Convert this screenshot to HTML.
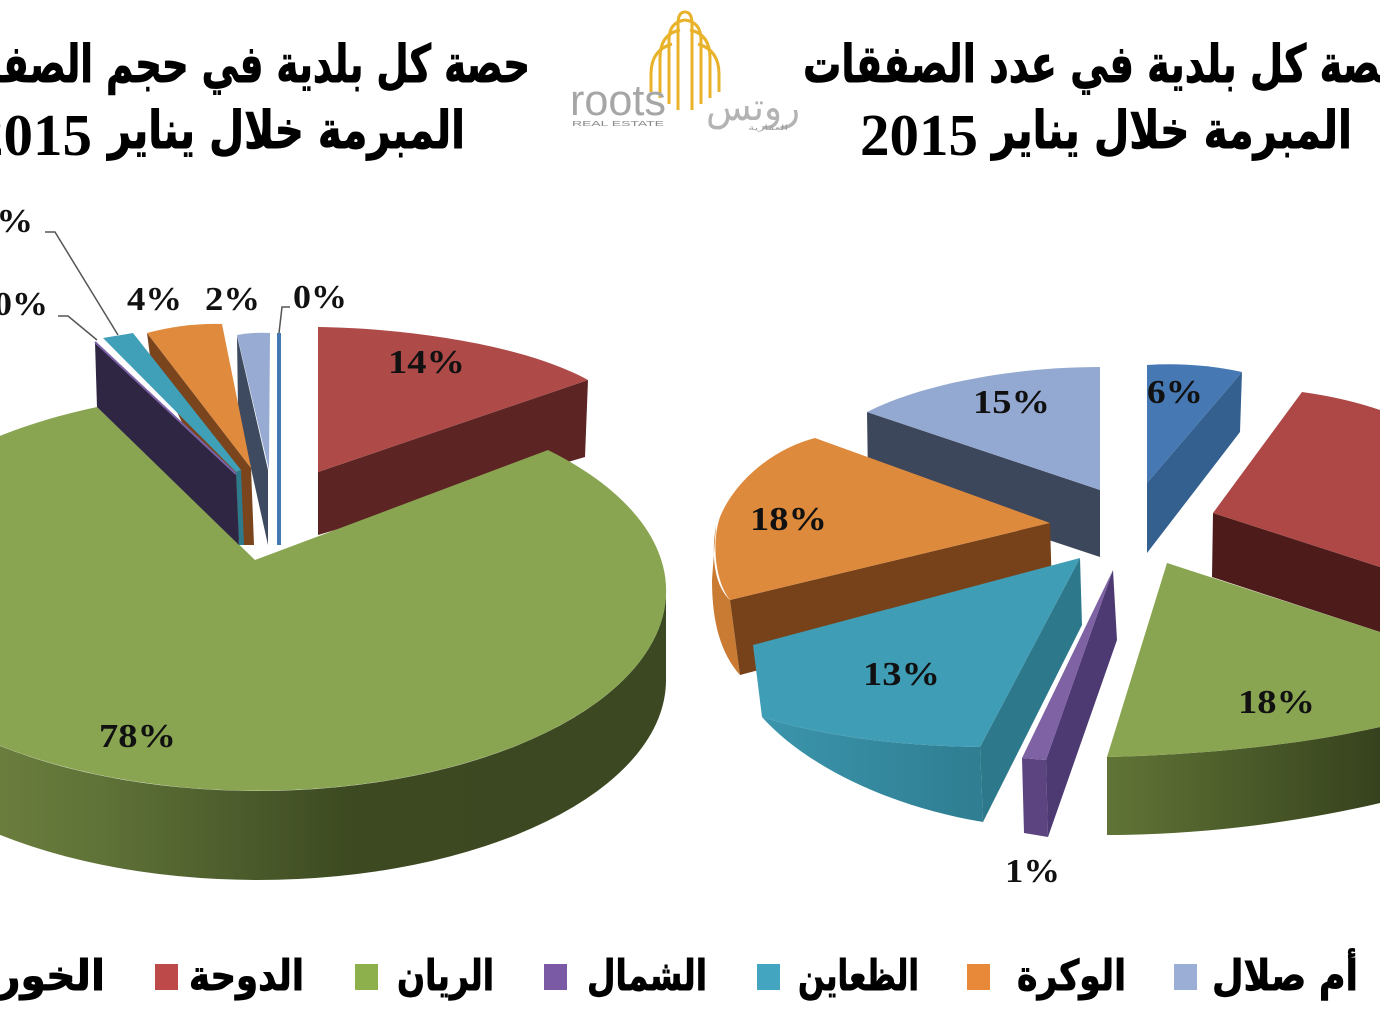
<!DOCTYPE html>
<html>
<head>
<meta charset="utf-8">
<style>
html,body{margin:0;padding:0;background:#fff;}
svg{display:block;}
.ar{font-family:"DejaVu Sans",sans-serif;font-weight:bold;fill:#000;stroke:#000;stroke-width:0.9px;}
.lb{font-family:"Liberation Serif",serif;font-weight:bold;fill:#111;font-size:34px;}
</style>
</head>
<body>
<svg width="1380" height="1034" viewBox="0 0 1380 1034" xmlns="http://www.w3.org/2000/svg">
<defs>
<linearGradient id="gw" gradientUnits="userSpaceOnUse" x1="-150" y1="0" x2="666" y2="0">
<stop offset="0" stop-color="#7a8e46"/>
<stop offset="0.3" stop-color="#607338"/>
<stop offset="0.62" stop-color="#3c4921"/>
<stop offset="1" stop-color="#3b4821"/>
</linearGradient>
<linearGradient id="gw2" gradientUnits="userSpaceOnUse" x1="1107" y1="0" x2="1380" y2="0">
<stop offset="0" stop-color="#617436"/>
<stop offset="1" stop-color="#36421d"/>
</linearGradient>
<linearGradient id="tw" gradientUnits="userSpaceOnUse" x1="760" y1="0" x2="985" y2="0">
<stop offset="0" stop-color="#3b95ac"/>
<stop offset="1" stop-color="#2f7d91"/>
</linearGradient>
</defs>
<rect width="1380" height="1034" fill="#fff"/>

<!-- ===== Titles ===== -->
<text class="ar" x="-75" y="82" font-size="52" textLength="605" lengthAdjust="spacingAndGlyphs">حصة كل بلدية في حجم الصفقات</text>
<text class="ar" x="108" y="148" font-size="52" textLength="357" lengthAdjust="spacingAndGlyphs">المبرمة خلال يناير</text>
<text x="-26" y="155" font-family="Liberation Serif, serif" font-weight="bold" font-size="59" textLength="118" lengthAdjust="spacingAndGlyphs">2015</text>

<text class="ar" x="803" y="82" font-size="52" textLength="605" lengthAdjust="spacingAndGlyphs">حصة كل بلدية في عدد الصفقات</text>
<text class="ar" x="992" y="148" font-size="52" textLength="360" lengthAdjust="spacingAndGlyphs">المبرمة خلال يناير</text>
<text x="860" y="155" font-family="Liberation Serif, serif" font-weight="bold" font-size="59" textLength="118" lengthAdjust="spacingAndGlyphs">2015</text>

<!-- ===== Logo ===== -->
<g fill="none" stroke="#e8b22a" stroke-width="3">
<path d="M678,110 L678,24 Q678,12 685,12 Q692,12 692,24 L692,110"/>
<path d="M669,104 L669,40 Q669,22 685,20"/>
<path d="M701,104 L701,40 Q701,22 685,20"/>
<path d="M660,98 L660,58 Q660,34 680,30"/>
<path d="M710,98 L710,58 Q710,34 690,30"/>
<path d="M651,92 L651,74 Q651,50 672,44"/>
<path d="M719,92 L719,74 Q719,50 698,44"/>
</g>
<text x="570" y="115" font-family="Liberation Sans, sans-serif" font-size="44" fill="#a6a6a6" textLength="96" lengthAdjust="spacingAndGlyphs">roots</text>
<text x="572" y="126" font-family="Liberation Sans, sans-serif" font-size="7" fill="#8a8a8a" textLength="92" lengthAdjust="spacingAndGlyphs">REAL ESTATE</text>
<text x="706" y="120" font-family="DejaVu Sans, sans-serif" font-size="38" fill="#b3b3b3" textLength="94" lengthAdjust="spacingAndGlyphs">روتس</text>
<text x="748" y="130" font-family="DejaVu Sans, sans-serif" font-size="7" fill="#999" textLength="40" lengthAdjust="spacingAndGlyphs">العقارية</text>

<!-- ===== Left pie ===== -->
<path d="M318,472 L588,380 L585,457 L318,535 Z" fill="#5c2423"/>
<path d="M318,472 L318,327 C400,328 520,343 588,380 Z" fill="#ae4a48"/>
<path d="M666,591 A408,200 0 0 1 -150,591 L-150,680 A408,200 0 0 0 666,680 Z" fill="url(#gw)"/>
<path d="M255,560 L548,450 A408,200 0 1 1 97,407 Z" fill="#8aa552"/>
<path d="M237,336 L268,470 L268,545 L238,410 Z" fill="#3e4a5f"/>
<path d="M237,335 Q254,332 270,333 L269,470 Z" fill="#97abd3"/>
<rect x="277" y="333" width="4" height="212" fill="#4577b0"/>
<path d="M147,333 L251,468 L254,545 L241,545 L150,356 Z" fill="#7a451c"/>
<path d="M147,333 Q185,323 222,324 L251,468 Z" fill="#e08a3e"/>
<path d="M236,472 L241,470 L244,545 L239,545 Z" fill="#2d7a8c"/>
<path d="M103,338 L133,333 L241,470 L236,472 Z" fill="#3fa0b8"/>
<path d="M95,342 L236,474 L239,545 L97,407 Z" fill="#2f2643"/>
<path d="M95,342 L236,474" stroke="#7b62a8" stroke-width="2"/>

<g fill="none" stroke="#555" stroke-width="1.5">
<path d="M45,232 L55,232 L118,335"/>
<path d="M58,316 L68,316 L97,340"/>
<path d="M290,307 L282,307 L279,333"/>
</g>

<text class="lb" x="388" y="373" textLength="77" lengthAdjust="spacingAndGlyphs">14%</text>
<text class="lb" x="99" y="747" textLength="77" lengthAdjust="spacingAndGlyphs">78%</text>
<text class="lb" x="127" y="310" textLength="55" lengthAdjust="spacingAndGlyphs">4%</text>
<text class="lb" x="205" y="310" textLength="55" lengthAdjust="spacingAndGlyphs">2%</text>
<text class="lb" x="293" y="308" textLength="54" lengthAdjust="spacingAndGlyphs">0%</text>
<text class="lb" x="-6" y="315" textLength="54" lengthAdjust="spacingAndGlyphs">0%</text>
<text class="lb" x="-22" y="232" textLength="55" lengthAdjust="spacingAndGlyphs">1%</text>

<!-- ===== Right pie ===== -->
<path d="M867,412 L1100,490 L1100,557 L868,480 Z" fill="#3d475b"/>
<path d="M1100,490 L867,412 C920,385 1010,367 1100,367 Z" fill="#94a9d1"/>
<path d="M1147,483 L1242,372 L1240,432 L1147,553 Z" fill="#34608f"/>
<path d="M1147,483 L1147,365 Q1195,362 1242,372 Z" fill="#4679b4"/>
<path d="M1213,513 L1380,567 L1380,632 L1212,577 Z" fill="#4d1b19"/>
<path d="M1213,513 L1302,392 Q1345,398 1380,410 L1380,567 Z" fill="#ad4846"/>
<path d="M716,525 C711,555 714,585 730,600 L740,675 C722,655 712,625 712,580 Z" fill="#c97a33"/>
<path d="M730,600 L1050,523 L1052,592 L740,675 Z" fill="#774219"/>
<path d="M815,438 C775,448 735,480 720,517 C712,540 714,580 730,600 L1050,523 Z" fill="#de8a3d"/>
<path d="M762,717 C830,738 905,746 980,747 L983,822 C880,805 800,760 762,717 Z" fill="url(#tw)"/>
<path d="M1080,558 L1082,625 L983,822 L980,747 Z" fill="#2e788c"/>
<path d="M1080,558 L753,645 L762,717 C830,738 905,746 980,747 Z" fill="#3f9db6"/>
<path d="M1022,758 L1046,760 L1048,837 L1024,833 Z" fill="#5b447f"/>
<path d="M1113,570 L1117,640 L1048,837 L1046,760 Z" fill="#4d3a72"/>
<path d="M1113,570 L1022,758 L1046,760 Z" fill="#7e62a3"/>
<path d="M1107,757 C1200,755 1300,745 1380,727 L1380,803 C1300,822 1200,835 1107,835 Z" fill="url(#gw2)"/>
<path d="M1167,563 L1380,632 L1380,727 C1300,745 1200,755 1107,757 Z" fill="#8aa552"/>

<text class="lb" x="973" y="413" textLength="77" lengthAdjust="spacingAndGlyphs">15%</text>
<text class="lb" x="1147" y="403" textLength="56" lengthAdjust="spacingAndGlyphs">6%</text>
<text class="lb" x="750" y="530" textLength="77" lengthAdjust="spacingAndGlyphs">18%</text>
<text class="lb" x="863" y="685" textLength="77" lengthAdjust="spacingAndGlyphs">13%</text>
<text class="lb" x="1005" y="882" textLength="55" lengthAdjust="spacingAndGlyphs">1%</text>
<text class="lb" x="1238" y="713" textLength="77" lengthAdjust="spacingAndGlyphs">18%</text>

<!-- ===== Legend ===== -->
<rect x="1174" y="964" width="23" height="26" fill="#9aaed6"/>
<text class="ar" x="1212" y="990" font-size="42" textLength="146" lengthAdjust="spacingAndGlyphs">أم صلال</text>
<rect x="967" y="964" width="23" height="26" fill="#e8893a"/>
<text class="ar" x="1017" y="990" font-size="42" textLength="109" lengthAdjust="spacingAndGlyphs">الوكرة</text>
<rect x="757" y="964" width="23" height="26" fill="#44a5c0"/>
<text class="ar" x="798" y="990" font-size="42" textLength="121" lengthAdjust="spacingAndGlyphs">الظعاين</text>
<rect x="544" y="964" width="23" height="26" fill="#7a5aa5"/>
<text class="ar" x="587" y="990" font-size="42" textLength="120" lengthAdjust="spacingAndGlyphs">الشمال</text>
<rect x="355" y="964" width="23" height="26" fill="#8db04c"/>
<text class="ar" x="397" y="990" font-size="42" textLength="97" lengthAdjust="spacingAndGlyphs">الريان</text>
<rect x="155" y="964" width="23" height="26" fill="#bd4a48"/>
<text class="ar" x="189" y="990" font-size="42" textLength="115" lengthAdjust="spacingAndGlyphs">الدوحة</text>
<text class="ar" x="-3" y="990" font-size="42" textLength="108" lengthAdjust="spacingAndGlyphs">الخور</text>
</svg>
</body>
</html>
